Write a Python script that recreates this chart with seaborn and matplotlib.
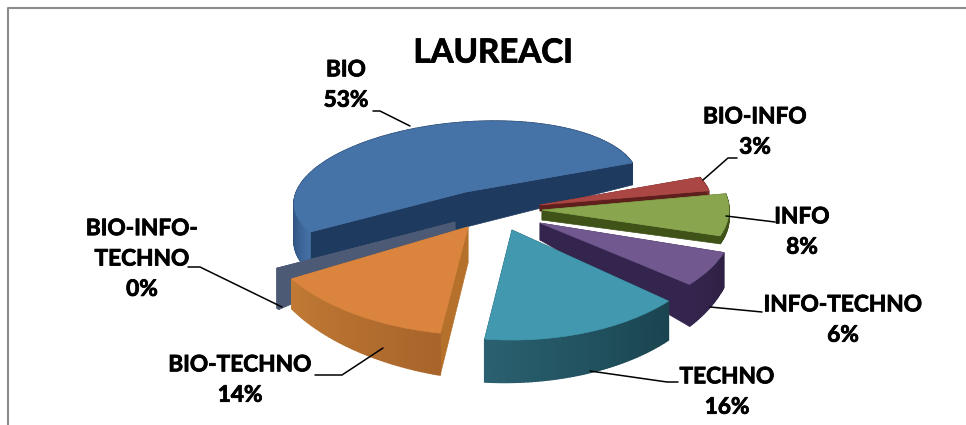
import matplotlib
matplotlib.use('Agg')
import matplotlib.pyplot as plt
import matplotlib.patheffects as pe
import numpy as np
import seaborn as sns
from matplotlib.colors import to_rgb
from matplotlib.transforms import Affine2D

W, H = 966, 425

categories = ['BIO', 'BIO-INFO', 'INFO', 'INFO-TECHNO', 'TECHNO', 'BIO-TECHNO', 'BIO-INFO-TECHNO']
values = [53, 3, 8, 6, 16, 14, 0.3]
labels = ['BIO\n53%', 'BIO-INFO\n3%', 'INFO\n8%', 'INFO-TECHNO\n6%', 'TECHNO\n16%', 'BIO-TECHNO\n14%', 'BIO-INFO-\nTECHNO\n0%']

top_colors = ['#4572a7', '#aa4643', '#89a54e', '#71588f', '#4198af', '#db843d', '#4d5a75']
# arc wall colour at theta1 and at theta2 end of each slice
arc_start = ['#1f3a5f', '#7a2f2d', '#3f5218', '#33254d', '#2a6070', '#c07a35', '#4d5a75']
arc_end = ['#4470a5', '#5e2220', '#3f5218', '#2f2145', '#1a4450', '#a8642a', '#4d5a75']
edge_colors = ['#1f3a5f', '#5e1f1d', '#3f5218', '#33254d', '#1a4450', '#b5702c', '#4d5a75']

# per slice look of the fake 3d: apex x, apex y (pixels from top), radius x, radius y,
# skew, extra rotation, and wall depth at theta1 / theta2 / apex
apex = [(466, 192), (540, 205), (542, 210), (540, 223), (512, 230), (468, 227), (455, 222)]
radii = [(172, 70), (172, 75), (187, 85), (193, 97), (205, 110), (208, 108), (210, 87)]
skew = [11.6, 0, 0, 0, 0, -6.5, 0]
spin = [-7, 0, 0, 0, -1, -1, 0]
depth = [(22, 40, 35), (6, 6, 6), (8, 8, 10), (42, 35, 17), (43, 39, 20), (30, 42, 36), (40, 40, 12)]
draw_order = [0, 6, 1, 2, 3, 4, 5]

# leader lines, pixels from top
leaders = [
    [(373, 111), (380, 111), (410, 126)],
    [(737, 158), (728, 158), (703, 180)],
    [(775, 222), (726, 216)],
    [(762, 312), (710, 307)],
    [(678, 382), (667, 382), (590, 371)],
    [(315, 375), (342, 375), (383, 348)],
    [(188, 267), (200, 267), (282, 307)],
]
label_pos = [(346, 85), (755, 132), (802, 232), (843, 320), (727, 392), (240, 380), (142, 259)]

sns.set_theme(style='white')
plt.rcParams['font.family'] = ['Lato', 'DejaVu Sans']


def slice_point(i, deg):
    rx, ry = radii[i]
    x0, y0 = apex[i]
    t = np.radians(deg + spin[i])
    return x0 + rx * np.cos(t), (H - y0) + ry * np.sin(t) + skew[i] * np.cos(t)


def draw_wall(ax, i, theta1, theta2, z):
    """Side wall of one slice: the two straight edges, then strips along the arc."""
    d1, d2, d0 = depth[i]
    x0, y0 = apex[i]
    for deg, d in ((theta1, d1), (theta2, d2)):
        xa, ya = slice_point(i, deg)
        ax.fill([x0, xa, xa, x0], [H - y0, ya, ya - d, H - y0 - d0],
                color=edge_colors[i], lw=0.5, zorder=z)
    steps = max(int(theta2 - theta1), 1)
    angles = np.linspace(theta1, theta2, steps + 1)
    start = np.array(to_rgb(arc_start[i]))
    end = np.array(to_rgb(arc_end[i]))
    for k in range(steps):
        xa, ya = slice_point(i, angles[k])
        xb, yb = slice_point(i, angles[k + 1])
        f = k / max(steps - 1, 1)
        da = d1 + (d2 - d1) * k / steps
        db = d1 + (d2 - d1) * (k + 1) / steps
        # BIO stays dark until the far left of its arc
        if i == 0:
            f = f ** 6
        c = start + (end - start) * f
        ax.fill([xa, xb, xb, xa], [ya, yb, yb - db, ya - da], color=c, lw=1.0, zorder=z + 0.1)


def plot_pie():
    fig = plt.figure(figsize=(W / 100, H / 100), dpi=100)
    ax = fig.add_axes([0, 0, 1, 1])
    wedges, _ = ax.pie(values, colors=top_colors, startangle=212, counterclock=False, radius=1)
    ax.set_aspect('auto')
    ax.set_xlim(0, W)
    ax.set_ylim(0, H)
    ax.axis('off')

    for z, i in enumerate(draw_order):
        w = wedges[i]
        base = 10 + z * 2
        draw_wall(ax, i, w.theta1, w.theta2, base)
        rx, ry = radii[i]
        shape = Affine2D().rotate_deg(spin[i]) + Affine2D(np.array([[rx, 0, 0], [skew[i], ry, 0], [0, 0, 1]]))
        w.set_transform(shape + Affine2D().translate(apex[i][0], H - apex[i][1]) + ax.transData)
        w.set_zorder(base + 1)
        w.set_edgecolor(top_colors[i])
        w.set_linewidth(0.5)

    thick = [pe.withStroke(linewidth=0.6, foreground='black')]
    for pts, label, pos in zip(leaders, labels, label_pos):
        xs = [p[0] for p in pts]
        ys = [H - p[1] for p in pts]
        ax.plot(xs, ys, color='black', lw=1.1, zorder=40)
        ax.text(pos[0], H - pos[1], label, ha='center', va='center', fontsize=16.3,
                fontweight='bold', color='black', linespacing=1.55, zorder=50, path_effects=thick)

    ax.text(493, H - 53, 'LAUREACI', ha='center', va='center', fontsize=23.8,
            fontweight='bold', color='black', zorder=50, path_effects=thick)

    # chart frame, open at the bottom and on the right
    ax.plot([7.5, 7.5, W], [0, H - 7.5, H - 7.5], color='#8c8c8c', lw=1.5, zorder=5)

    fig.savefig('out.png', dpi=100)


def main():
    plot_pie()


if __name__ == "__main__":
    main()
